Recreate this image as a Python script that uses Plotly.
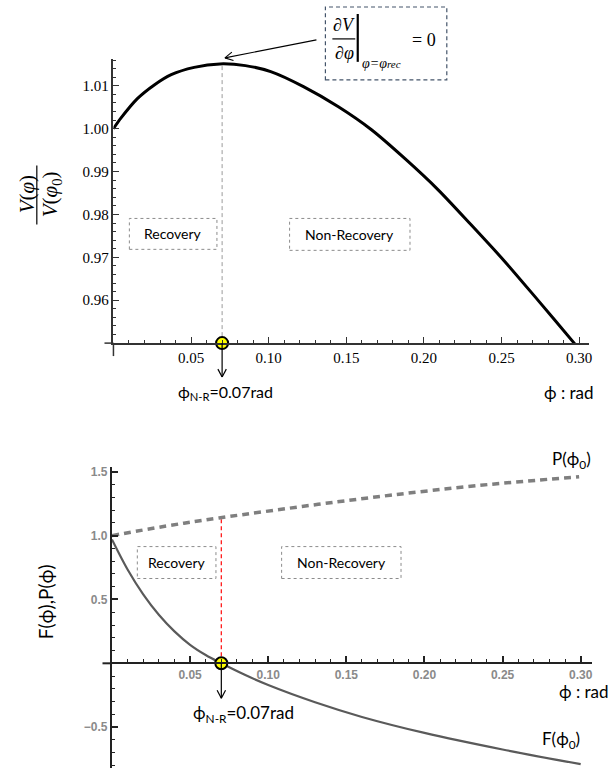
import math
import plotly.graph_objects as go

# ---------------- data ----------------
# top chart: V(phi)/V(phi0)
phi_v = [0, 0.0049, 0.0154, 0.0263, 0.0372, 0.052, 0.0686, 0.085, 0.1013, 0.1224, 0.1449,
         0.166, 0.1878, 0.209, 0.2301, 0.2519, 0.273, 0.2968, 0.302]
v_ratio = [1.0, 1.0025, 1.0070, 1.0102, 1.0126, 1.0143, 1.0151, 1.0147, 1.0133, 1.0098, 1.0051,
           0.9998, 0.9930, 0.9858, 0.9777, 0.9691, 0.9602, 0.9500, 0.9477]

# bottom chart: F(phi) and P(phi)
phi_f = [0, 0.01, 0.02, 0.03, 0.04, 0.05, 0.06, 0.07, 0.085, 0.10, 0.13, 0.16, 0.20, 0.25, 0.30]
f_vals = [0.97, 0.735, 0.54, 0.38, 0.25, 0.145, 0.065, 0.0, -0.09, -0.17, -0.305, -0.42,
          -0.545, -0.675, -0.79]
phi_p = [0, 0.0347, 0.0685, 0.132, 0.178, 0.234, 0.299]
p_vals = [1.0, 1.075, 1.138, 1.245, 1.316, 1.392, 1.461]

phi_nr = 0.07          # non-recovery angle
v_peak = 1.0151        # peak of V ratio
p_at_nr = 1.14         # P at phi_nr

top_xticks = [0.05, 0.10, 0.15, 0.20, 0.25, 0.30]
top_xlabels = ["0.05", "0.10", "0.15", "0.20", "0.25", "0.30"]
top_yticks = [0.96, 0.97, 0.98, 0.99, 1.00, 1.01]
top_ylabels = ["0.96", "0.97", "0.98", "0.99", "1.00", "1.01"]
bot_xticks = top_xticks
bot_xlabels = top_xlabels
bot_yticks = [-0.5, 0.5, 1.0, 1.5]
bot_ylabels = ["\u22120.5", "0.5", "1.0", "1.5"]

# ---------------- layout helpers ----------------
W, H = 614, 773
def fx(p):
    return p / W
def fy(p):
    return 1 - p / H

SANS = "Lato, 'Noto Sans', 'DejaVu Sans', sans-serif"
SERIF = "'Liberation Serif', 'Times New Roman', serif"

TOP_X = (114, 592)
TOP_Y = (342, 57)
BOT_X = (112.5, 595)
BOT_Y = (768, 466)

top_xdom = [fx(TOP_X[0]), fx(TOP_X[1])]
top_ydom = [fy(TOP_Y[0]), fy(TOP_Y[1])]
top_xrange = [0, 0.3064]
top_yrange = [0.95, 1.01628]

bot_xdom = [fx(BOT_X[0]), fx(BOT_X[1])]
bot_ydom = [fy(BOT_Y[0]), fy(BOT_Y[1])]
bot_xrange = [0, 0.3073]
bot_yrange = [-0.82, 1.539]
bot_xpos = bot_ydom[0] + (0 - bot_yrange[0]) / (bot_yrange[1] - bot_yrange[0]) * (bot_ydom[1] - bot_ydom[0])

def top_xpix(v):
    return TOP_X[0] + (v - top_xrange[0]) / (top_xrange[1] - top_xrange[0]) * (TOP_X[1] - TOP_X[0])
def bot_xpix(v):
    return BOT_X[0] + (v - bot_xrange[0]) / (bot_xrange[1] - bot_xrange[0]) * (BOT_X[1] - BOT_X[0])
bot_axis_pix = H * (1 - bot_xpos)

fig = go.Figure()

# ---- top chart traces ----
fig.add_trace(go.Scatter(x=[phi_nr, phi_nr], y=[top_yrange[0], v_peak], mode="lines",
                         line=dict(color="#9a9a9a", width=1, dash="4px,3px"),
                         xaxis="x", yaxis="y", showlegend=False, hoverinfo="skip"))
fig.add_trace(go.Scatter(x=phi_v, y=v_ratio, mode="lines",
                         line=dict(color="black", width=3, shape="spline", smoothing=0.8),
                         xaxis="x", yaxis="y", showlegend=False))

# ---- bottom chart traces ----
fig.add_trace(go.Scatter(x=[phi_nr, phi_nr], y=[0, p_at_nr], mode="lines",
                         line=dict(color="#ff1a1a", width=1.3, dash="4px,3px"),
                         xaxis="x2", yaxis="y2", showlegend=False, hoverinfo="skip"))
fig.add_trace(go.Scatter(x=phi_p, y=p_vals, mode="lines",
                         line=dict(color="#7f7f7f", width=3.5, dash="7px,5px", shape="spline"),
                         xaxis="x2", yaxis="y2", showlegend=False))
fig.add_trace(go.Scatter(x=phi_f, y=f_vals, mode="lines",
                         line=dict(color="#5a5a5a", width=2.2, shape="spline", smoothing=1.0),
                         xaxis="x2", yaxis="y2", showlegend=False))

axis_common = dict(showgrid=False, zeroline=False, showline=True, ticks="inside", fixedrange=True)

fig.update_layout(
    width=W, height=H,
    margin=dict(l=0, r=0, t=0, b=0),
    paper_bgcolor="white", plot_bgcolor="white",
    showlegend=False,
    xaxis=dict(domain=top_xdom, range=top_xrange, anchor="y",
               tickmode="array", tickvals=top_xticks, ticktext=top_xlabels,
               linecolor="#333", linewidth=1.5, tickcolor="#333", ticklen=6, tickwidth=1.2,
               tickfont=dict(family=SERIF, size=15, color="black", weight="normal"),
               minor=dict(tickmode="linear", tick0=0, dtick=0.01, ticklen=3, ticks="inside",
                          tickcolor="#333", tickwidth=1),
               **axis_common),
    yaxis=dict(domain=top_ydom, range=top_yrange, anchor="x",
               tickmode="array", tickvals=top_yticks, ticktext=top_ylabels,
               linecolor="#333", linewidth=1.5, tickcolor="#333", ticklen=6, tickwidth=1.2,
               tickfont=dict(family=SERIF, size=15, color="black", weight="normal"),
               minor=dict(tickmode="linear", tick0=0.95, dtick=0.002, ticklen=3, ticks="inside",
                          tickcolor="#333", tickwidth=1),
               **axis_common),
    xaxis2=dict(domain=bot_xdom, range=bot_xrange, anchor="free", position=bot_xpos,
                tickmode="array", tickvals=bot_xticks, ticktext=bot_xlabels,
                linecolor="#222", linewidth=2, tickcolor="#222", ticklen=6, tickwidth=1.5,
                tickfont=dict(family="'Liberation Sans', Arial, sans-serif", size=12,
                              color="#8a8a8a", weight="bold"),
                minor=dict(tickmode="linear", tick0=0, dtick=0.01, ticklen=3.5, ticks="inside",
                           tickcolor="#222", tickwidth=1.3),
                **axis_common),
    yaxis2=dict(domain=bot_ydom, range=bot_yrange, anchor="x2",
                tickmode="array", tickvals=bot_yticks, ticktext=bot_ylabels,
                linecolor="#222", linewidth=2, tickcolor="#222", ticklen=6, tickwidth=1.5,
                tickfont=dict(family="'Liberation Sans', Arial, sans-serif", size=12,
                              color="#8a8a8a", weight="bold"),
                minor=dict(tickmode="linear", tick0=0, dtick=0.1, ticklen=3.5, ticks="inside",
                           tickcolor="#222", tickwidth=1.3),
                **axis_common),
)

shapes = []
annots = []

def text_at(xp, yp, text, size, family=SANS, xanchor="center", angle=0, color="black"):
    annots.append(dict(x=fx(xp), y=fy(yp), xref="paper", yref="paper", text=text,
                       showarrow=False, xanchor=xanchor, yanchor="middle", textangle=angle,
                       font=dict(family=family, size=size, color=color)))

def pline(x0, y0, x1, y1, color="black", width=1.2):
    shapes.append(dict(type="line", xref="paper", yref="paper", x0=fx(x0), y0=fy(y0), x1=fx(x1), y1=fy(y1),
                       line=dict(color=color, width=width)))

def arrow(tx, ty, hx, hy, width=1.1, head=9, spread=28):
    # line from tail (tx,ty) to head (hx,hy) in pixels, with an open chevron head
    pline(tx, ty, hx, hy, width=width)
    ang = math.atan2(ty - hy, tx - hx)
    for s in (-1, 1):
        a = ang + s * math.radians(spread)
        pline(hx, hy, hx + head * math.cos(a), hy + head * math.sin(a), width=width)

# axis overhangs (Mathematica style crossing)
pline(105, TOP_Y[0], TOP_X[0], TOP_Y[0], color="#333", width=1.5)
pline(TOP_X[0], TOP_Y[0], TOP_X[0], 355, color="#333", width=1.5)
pline(103, bot_axis_pix, BOT_X[0], bot_axis_pix, color="#222", width=2)

# Recovery / Non-Recovery boxes
def label_box(x0, x1, y0, y1, text):
    shapes.append(dict(type="rect", xref="paper", yref="paper", x0=fx(x0), x1=fx(x1), y0=fy(y1), y1=fy(y0),
                       line=dict(color="#8c8c8c", width=1, dash="dot"), fillcolor="rgba(0,0,0,0)"))
    text_at((x0 + x1) / 2, (y0 + y1) / 2, text, 14)

label_box(130, 218, 217, 248, "Recovery")
label_box(291, 412, 217, 249, "Non-Recovery")
label_box(138, 217, 546, 578, "Recovery")
label_box(283, 403, 546, 578, "Non-Recovery")

# down arrows from markers
arrow(top_xpix(phi_nr), TOP_Y[0], top_xpix(phi_nr), 376, width=1.2)
arrow(bot_xpix(phi_nr), bot_axis_pix, bot_xpix(phi_nr), 698, width=1.2)

# arrow to peak
arrow(318, 38, top_xpix(0.0718), 56, width=1.1)

# yellow markers (drawn after arrows so they sit on top)
fig.add_trace(go.Scatter(x=[phi_nr], y=[top_yrange[0]], mode="markers",
                         marker=dict(color="#ffff00", size=12, line=dict(color="black", width=2)),
                         cliponaxis=False, xaxis="x", yaxis="y", showlegend=False))
fig.add_trace(go.Scatter(x=[phi_nr], y=[0], mode="markers",
                         marker=dict(color="#ffff00", size=12, line=dict(color="black", width=2)),
                         cliponaxis=False, xaxis="x2", yaxis="y2", showlegend=False))

# phi N-R labels
text_at(227, 392, "\u03d5<sub>N-R</sub>=0.07rad", 16)
text_at(245, 714, "\u03d5<sub>N-R</sub>=0.07rad", 17)

# axis name labels
text_at(545, 392, "\u03d5 : rad", 17, xanchor="left")
text_at(560, 691, "\u03d5 : rad", 17, xanchor="left")
text_at(574, 459, "P(\u03d5<sub>0</sub>)", 17)
text_at(564, 740, "F(\u03d5<sub>0</sub>)", 17)

# bottom y title
text_at(46, 601, "F(\u03d5),P(\u03d5)", 19, angle=-90)

# top y title: fraction V(phi)/V(phi0)
text_at(27, 193, "<i>V</i>(<i>\u03c6</i>)", 21, family=SERIF, angle=-90)
text_at(51, 193, "<i>V</i>(<i>\u03c6</i><sub>0</sub>)", 21, family=SERIF, angle=-90)
pline(37, 164, 37, 223, width=1.2)

# derivative box
shapes.append(dict(type="rect", xref="paper", yref="paper", x0=fx(327), x1=fx(449), y0=fy(78), y1=fy(5),
                   line=dict(color="#44546a", width=1.2, dash="4px,3px"), fillcolor="rgba(0,0,0,0)"))
text_at(346, 23, "<i>\u2202V</i>", 18, family=SERIF)
pline(334, 37, 357, 37, width=1.2)
text_at(346, 51, "<i>\u2202\u03c6</i>", 18, family=SERIF)
pline(359.5, 12, 359.5, 60, width=2.2)
text_at(362, 62, "<i>\u03c6=\u03c6</i><i style='font-size:11px'>rec</i>", 14, family=SERIF, xanchor="left")
text_at(426, 38, "= 0", 18, family=SERIF)

fig.update_layout(shapes=shapes, annotations=annots)

fig.write_html("out.html", config={"displayModeBar": False},
               post_script="document.body.style.margin='0px';")
